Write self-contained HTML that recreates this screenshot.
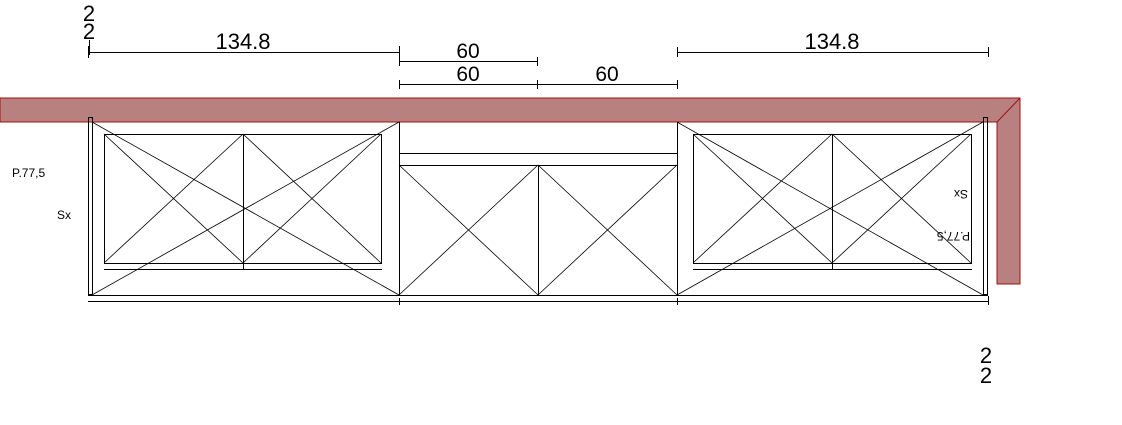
<!DOCTYPE html>
<html><head><meta charset="utf-8"><style>
html,body{margin:0;padding:0;background:#fff;}
svg{display:block;}
text{font-family:"Liberation Sans",sans-serif;fill:#000;}
</style></head><body>
<svg width="1122" height="425" viewBox="0 0 1122 425" xmlns="http://www.w3.org/2000/svg">
<polygon points="0,98 1020,98 1020,284 997,284 997,122 0,122" fill="#b98080" stroke="#a01010" stroke-width="1"/>
<line x1="997" y1="122" x2="1020" y2="98" stroke="#a01010" stroke-width="1"/>
<g stroke="#000" stroke-width="1" fill="none" shape-rendering="crispEdges">
<line x1="88" y1="52.5" x2="399" y2="52.5"/>
<line x1="88.5" y1="46" x2="88.5" y2="58"/><line x1="399.5" y1="46" x2="399.5" y2="58"/>
<line x1="677" y1="52.5" x2="988" y2="52.5"/>
<line x1="677.5" y1="47" x2="677.5" y2="57"/><line x1="988.5" y1="47" x2="988.5" y2="57"/>
<line x1="399" y1="61.5" x2="538" y2="61.5"/>
<line x1="399.5" y1="57" x2="399.5" y2="66"/><line x1="537.5" y1="57" x2="537.5" y2="66"/>
<line x1="399" y1="84.5" x2="677" y2="84.5"/>
<line x1="399.5" y1="80" x2="399.5" y2="89"/><line x1="537.5" y1="80" x2="537.5" y2="89"/><line x1="677.5" y1="80" x2="677.5" y2="89"/>
<rect x="88.5" y="117.5" width="4" height="177"/>
<line x1="88" y1="295.5" x2="399" y2="295.5"/>
<line x1="399.5" y1="122" x2="399.5" y2="296"/>
<rect x="104.5" y="134.5" width="277" height="129"/>
<line x1="243.5" y1="134" x2="243.5" y2="270"/>
<line x1="104" y1="269.5" x2="382" y2="269.5"/>
<line x1="677.5" y1="122" x2="677.5" y2="296"/>
<line x1="399" y1="295.5" x2="988" y2="295.5"/>
<line x1="399" y1="153.5" x2="677" y2="153.5"/>
<line x1="399" y1="165.5" x2="677" y2="165.5"/>
<line x1="538.5" y1="165" x2="538.5" y2="296"/>
<rect x="983.5" y="117.5" width="4" height="177"/>
<rect x="693.5" y="134.5" width="278" height="129"/>
<line x1="832.5" y1="134" x2="832.5" y2="270"/>
<line x1="693" y1="269.5" x2="972" y2="269.5"/>
<line x1="88" y1="301.5" x2="988" y2="301.5"/>
<line x1="399.5" y1="298" x2="399.5" y2="305"/><line x1="677.5" y1="298" x2="677.5" y2="305"/><line x1="988.5" y1="296" x2="988.5" y2="305"/>
<line x1="89.5" y1="40" x2="89.5" y2="55"/>
</g>
<g stroke="#000" stroke-width="0.8" fill="none">
<line x1="92" y1="122" x2="399" y2="295"/><line x1="92" y1="295" x2="399" y2="122"/>
<line x1="104" y1="134" x2="243" y2="263"/><line x1="104" y1="263" x2="243" y2="134"/>
<line x1="243" y1="134" x2="381" y2="263"/><line x1="243" y1="263" x2="381" y2="134"/>
<line x1="399" y1="165" x2="538" y2="295"/><line x1="399" y1="295" x2="538" y2="165"/>
<line x1="538" y1="165" x2="677" y2="295"/><line x1="538" y1="295" x2="677" y2="165"/>
<line x1="677" y1="122" x2="983" y2="295"/><line x1="677" y1="295" x2="983" y2="122"/>
<line x1="693" y1="134" x2="832" y2="263"/><line x1="693" y1="263" x2="832" y2="134"/>
<line x1="832" y1="134" x2="971" y2="263"/><line x1="832" y1="263" x2="971" y2="134"/>
</g>
<text x="243" y="49" font-size="22" text-anchor="middle">134.8</text>
<text x="832" y="49" font-size="22" text-anchor="middle">134.8</text>
<text x="468" y="58" font-size="21" text-anchor="middle">60</text>
<text x="468" y="81" font-size="21" text-anchor="middle">60</text>
<text x="607" y="81" font-size="21" text-anchor="middle">60</text>
<text x="12" y="177" font-size="12">P.77,5</text>
<text x="57" y="219" font-size="12">Sx</text>
<text transform="translate(970,232) rotate(180)" font-size="12">P.77,5</text>
<text transform="translate(968,190) rotate(180)" font-size="12">Sx</text>
<text x="89" y="21" font-size="22" text-anchor="middle">2</text>
<text x="89" y="39" font-size="22" text-anchor="middle">2</text>
<text x="986" y="363" font-size="22" text-anchor="middle">2</text>
<text x="986" y="383" font-size="22" text-anchor="middle">2</text>
</svg>
</body></html>
